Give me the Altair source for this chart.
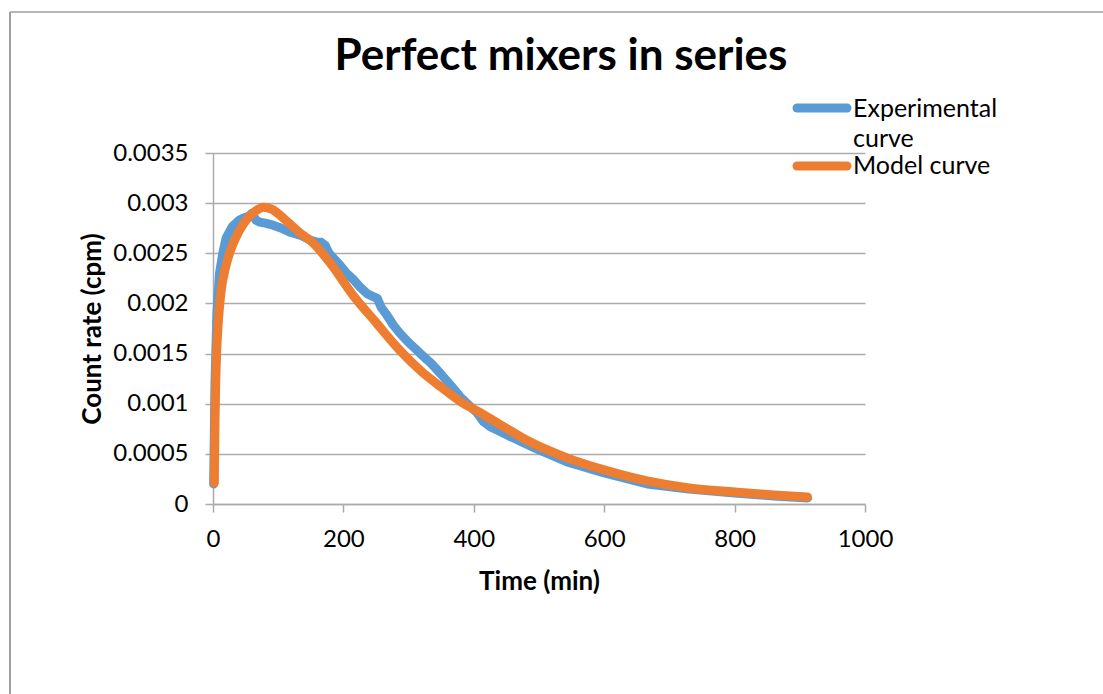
import altair as alt
import pandas as pd

# ---- data ----
exp_t = [1, 3, 6, 10, 15, 20, 30, 40, 46, 55, 60, 63, 66, 72, 80, 92, 105, 118, 134, 150, 160, 166, 172,
         178, 185, 195, 205, 215, 226, 236, 245, 252, 258, 267, 277, 287, 300, 310, 318, 335, 349, 365,
         379, 395, 405, 415, 425, 441, 460, 480, 500, 543, 600, 666, 730, 800, 860, 912]
exp_v = [0.0002, 0.0012, 0.0019, 0.0023, 0.0025, 0.00265, 0.00277, 0.00283, 0.00285, 0.00287, 0.0029,
         0.00286, 0.00283, 0.00281, 0.0028, 0.00278, 0.00275, 0.00271, 0.00268, 0.00263, 0.00261,
         0.00261, 0.00258, 0.0025, 0.00245, 0.00238, 0.0023, 0.00224, 0.00216, 0.0021, 0.00207,
         0.00205, 0.00196, 0.00188, 0.00178, 0.0017, 0.00161, 0.00155, 0.0015, 0.0014, 0.0013,
         0.00118, 0.00107, 0.00097, 0.00091, 0.00082, 0.00077, 0.00072, 0.00066, 0.0006, 0.00054,
         0.00042, 0.00031, 0.0002, 0.00015, 0.00011, 0.00008, 0.00006]

mod_t = [2, 3, 5, 8, 12, 20, 30, 40, 52, 65, 77, 90, 108, 134, 154, 180, 215, 250, 287, 320, 349,
         380, 410, 441, 480, 543, 600, 666, 730, 800, 860, 912]
mod_v = [0.00021, 0.0008, 0.0014, 0.0018, 0.0021, 0.00238, 0.00258, 0.00272, 0.00284, 0.00292,
         0.00296, 0.00294, 0.00285, 0.0027, 0.0026, 0.0024, 0.00208, 0.00181, 0.00153, 0.00132,
         0.00117, 0.00102, 0.00091, 0.00079, 0.00064, 0.00046, 0.00034, 0.00023, 0.00016, 0.00012,
         0.00009, 0.00007]

series_names = ["Experimental curve", "Model curve"]
series_colors = ["#5B9BD5", "#ED7D31"]
x_ticks = [0, 200, 400, 600, 800, 1000]
y_ticks = [0, 0.0005, 0.001, 0.0015, 0.002, 0.0025, 0.003, 0.0035]
title_text = "Perfect mixers in series"

FONT = "Lato"
W, H = 652, 351
PL, PT = 213, 153
GRID = "#ABABAB"

exp_df = pd.DataFrame({"t": exp_t, "v": exp_v, "s": series_names[0]})
mod_df = pd.DataFrame({"t": mod_t, "v": mod_v, "s": series_names[1]})

xs = alt.Scale(domain=[0, 1000], nice=False, zero=False)
ys = alt.Scale(domain=[0, 0.0035], nice=False)

x_enc = alt.X("t:Q", scale=xs, axis=alt.Axis(
    title="Time (min)", values=x_ticks, grid=False, tickSize=8, labelPadding=15,
    titlePadding=17, labelFontSize=24, titleFontSize=26, labelFont=FONT, titleFont=FONT,
    titleFontWeight="bold", domainColor=GRID, tickColor=GRID, domainWidth=1.5, tickWidth=1.5,
    labelColor="black", titleColor="black", labelExpr="format(datum.value, 'd')",
    labelFlush=False, labelOverlap=False))
y_enc = alt.Y("v:Q", scale=ys, axis=alt.Axis(
    title="Count rate (cpm)", values=y_ticks, grid=True, gridColor=GRID, gridWidth=1.5,
    tickSize=8, labelPadding=17, titlePadding=7, labelFontSize=24, titleFontSize=26,
    labelFont=FONT, titleFont=FONT, titleFontWeight="bold", domainColor=GRID, tickColor=GRID,
    domainWidth=1.5, tickWidth=1.5, labelColor="black", titleColor="black",
    labelExpr="datum.value == 0 ? '0' : format(datum.value, '.4~f')",
    labelFlush=False, labelOverlap=False))

exp_line = alt.Chart(exp_df).mark_line(
    color=series_colors[0], strokeWidth=9, strokeCap="round", strokeJoin="round"
).encode(x=x_enc, y=y_enc)

mod_line = alt.Chart(mod_df).mark_line(
    color=series_colors[1], strokeWidth=9, strokeCap="round", strokeJoin="round",
    interpolate="monotone"
).encode(x="t:Q", y="v:Q")

one = pd.DataFrame({"a": [0]})

border_left = alt.Chart(one).mark_rule(color="#A0A0A0", strokeWidth=2).encode(
    x=alt.value(10 - PL), y=alt.value(12 - PT), y2=alt.value(694 - PT))
border_top = alt.Chart(one).mark_rule(color="#A0A0A0", strokeWidth=1.5).encode(
    x=alt.value(10 - PL), x2=alt.value(1103 - PL), y=alt.value(12 - PT))

title = alt.Chart(pd.DataFrame({"txt": [title_text]})).mark_text(
    font=FONT, fontSize=44, fontWeight="bold", color="black", align="center",
    baseline="alphabetic").encode(text="txt:N", x=alt.value(561 - PL), y=alt.value(70 - PT))

leg_layers = []
leg_y = [108, 166]
for name, col, ly in zip(series_names, series_colors, leg_y):
    leg_layers.append(alt.Chart(one).mark_rule(color=col, strokeWidth=9, strokeCap="round").encode(
        x=alt.value(797 - PL), x2=alt.value(847 - PL), y=alt.value(ly - PT)))

leg_text = alt.Chart(pd.DataFrame({
    "txt": ["Experimental", "curve", "Model curve"],
    "yy": [117 - PT, 147 - PT, 174 - PT]})).mark_text(
    font=FONT, fontSize=25, color="black", align="left", baseline="alphabetic").encode(
    text="txt:N", x=alt.value(853 - PL), y=alt.Y("yy:Q", scale=None))

chart = alt.layer(
    border_left, border_top, exp_line, mod_line, title, *leg_layers, leg_text
).properties(
    width=W, height=H,
    padding={"left": PL, "top": PT, "right": 1103 - PL - W, "bottom": 694 - PT - H},
    autosize=alt.AutoSizeParams(type="none"),
    background="white"
).configure_view(stroke=None)

chart.save("out.html", embed_options={"renderer": "svg", "actions": False})
